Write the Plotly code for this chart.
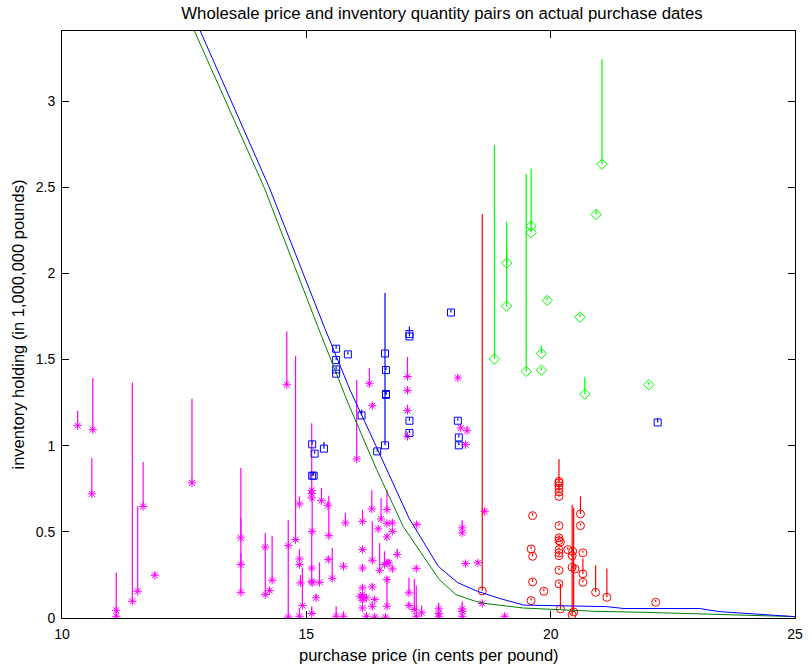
import plotly.graph_objects as go

# ---------------- data ----------------
# magenta asterisks: price, inventory, stem top
mag_x = [10.32, 10.63, 10.61, 11.11, 11.11, 11.44, 11.55, 11.66, 11.90, 12.66,
         13.66, 13.66, 13.66, 14.16, 14.16, 14.25, 14.30, 14.60, 14.63, 14.63,
         14.78, 14.86, 14.86, 14.86, 14.88, 14.92, 14.86, 15.11, 15.11, 15.11,
         15.12, 15.11, 15.11, 15.12, 15.11, 15.20, 15.27, 15.31, 15.44, 15.46,
         15.45, 15.53, 15.61, 15.76, 15.76, 15.80, 16.03, 16.29, 16.35, 16.15,
         16.15, 16.15, 16.15, 16.15, 16.15, 16.15, 16.15, 16.10, 16.23, 16.23,
         16.34, 16.35, 16.35, 16.35, 16.40, 16.40, 16.47, 16.53, 16.50, 16.60,
         16.62, 16.65, 16.65, 16.65, 16.65, 16.65, 16.65, 16.69, 16.76, 16.76,
         16.76, 16.86, 17.07, 17.07, 17.07, 17.07, 17.26, 17.25, 17.10, 17.10,
         17.21, 17.25, 17.36, 17.71, 17.71, 17.71, 18.10, 18.16, 18.29, 18.26,
         18.19, 18.19, 18.26, 18.19, 18.19, 18.19, 18.51, 18.60, 18.65, 19.06]
mag_y = [1.116, 1.093, 0.720, 0.045, 0.010, 0.097, 0.155, 0.648, 0.248, 0.784,
         0.465, 0.310, 0.149, 0.412, 0.136, 0.159, 0.219, 1.354, 0.420, 0.005,
         0.455, 0.662, 0.343, 0.310, 0.204, 0.072, 0.010, 0.741, 0.722, 0.697,
         0.503, 0.290, 0.213, 0.204, 0.026, 0.117, 0.207, 0.681, 0.654, 0.478,
         0.339, 0.230, 0.010, 0.010, 0.300, 0.552, 0.923, 1.360, 1.232, 0.561,
         0.397, 0.290, 0.175, 0.136, 0.117, 0.103, 0.058, 0.126, 0.117, 0.010,
         0.633, 0.335, 0.180, 0.068, 0.107, 0.005, 0.517, 0.575, 0.277, 0.310,
         0.005, 0.629, 0.548, 0.470, 0.320, 0.223, 0.068, 0.320, 0.552, 0.503,
         0.285, 0.368, 1.402, 1.321, 1.205, 1.054, 0.542, 0.288, 0.146, 0.072,
         0.049, 0.010, 0.030, 0.053, 0.026, 0.010, 1.393, 1.103, 1.087, 1.006,
         0.523, 0.494, 0.316, 0.053, 0.039, 0.010, 0.320, 0.084, 0.619, 0.010]
mag_top = [1.203, 1.393, 0.929, 0.262, 0.045, 1.367, 0.648, 0.905, 0.265, 1.273,
           0.871, 0.581, 0.378, 0.494, 0.412, 0.175, 0.478, 1.663, 0.567, 0.420,
           1.522, 0.706, 0.400, 0.343, 0.250, 0.290, 0.058, 1.131, 0.740, 0.720,
           0.700, 0.500, 0.290, 0.220, 0.068, 0.140, 0.323, 0.755, 0.670, 0.710,
           0.360, 0.407, 0.068, 0.039, 0.320, 0.610, 1.383, 1.450, 1.250, 0.629,
           0.420, 0.310, 0.190, 0.150, 0.130, 0.120, 0.070, 0.140, 0.130, 0.030,
           0.741, 0.561, 0.200, 0.090, 0.120, 0.020, 0.530, 0.697, 0.436, 0.387,
           0.020, 0.745, 0.560, 0.490, 0.340, 0.240, 0.223, 0.340, 0.570, 0.520,
           0.300, 0.401, 1.515, 1.340, 1.238, 1.070, 0.560, 0.300, 0.232, 0.090,
           0.227, 0.188, 0.072, 0.088, 0.040, 0.020, 1.410, 1.120, 1.112, 1.020,
           0.567, 0.510, 0.330, 0.097, 0.050, 0.020, 0.335, 0.100, 0.635, 0.025]

# blue squares
blu_x = [15.61, 15.61, 15.61, 15.61, 15.85, 16.61, 16.63, 16.63, 16.63, 16.61,
         16.13, 16.45, 17.11, 17.11, 17.11, 17.11, 17.96, 18.10, 18.12, 18.12,
         15.12, 15.17, 15.36, 15.12, 15.15, 22.19]
blu_y = [1.563, 1.497, 1.443, 1.418, 1.530, 1.535, 1.439, 1.300, 1.295, 1.002,
         1.176, 0.967, 1.648, 1.634, 1.145, 1.074, 1.773, 1.145, 1.048, 1.002,
         1.008, 0.954, 0.983, 0.826, 0.826, 1.135]
blu_top = [1.580, 1.510, 1.460, 1.430, 1.545, 1.886, 1.455, 1.315, 1.310, 1.535,
           1.209, 0.985, 1.692, 1.650, 1.160, 1.090, 1.790, 1.160, 1.065, 1.020,
           1.025, 0.970, 1.021, 0.845, 0.845, 1.160]

# red circles
red_x = [18.60, 19.63, 19.60, 19.63, 19.63, 19.60, 19.86, 20.17, 20.17, 20.17,
         20.17, 20.17, 20.17, 20.17, 20.17, 20.17, 20.20, 20.17, 20.17, 20.17,
         20.17, 20.17, 20.20, 20.35, 20.44, 20.45, 20.44, 20.50, 20.44, 20.47,
         20.61, 20.61, 20.66, 20.66, 20.66, 20.92, 21.15, 22.15]
red_y = [0.157, 0.594, 0.401, 0.358, 0.209, 0.101, 0.155, 0.793, 0.784, 0.768,
         0.751, 0.731, 0.706, 0.536, 0.465, 0.449, 0.441, 0.397, 0.378, 0.362,
         0.277, 0.198, 0.053, 0.397, 0.362, 0.387, 0.294, 0.285, 0.018, 0.035,
         0.604, 0.536, 0.378, 0.256, 0.207, 0.149, 0.120, 0.091]
red_top = [2.345, 0.610, 0.415, 0.375, 0.225, 0.115, 0.170, 0.923, 0.800, 0.780,
           0.770, 0.750, 0.720, 0.550, 0.480, 0.465, 0.455, 0.410, 0.390, 0.375,
           0.290, 0.210, 0.198, 0.410, 0.375, 0.400, 0.310, 0.300, 0.658, 0.640,
           0.706, 0.550, 0.390, 0.345, 0.220, 0.306, 0.287, 0.105]

# green diamonds
grn_x = [18.85, 19.10, 19.10, 19.50, 19.60, 19.60, 19.81, 19.81, 19.93, 20.60,
         20.70, 20.93, 21.05, 22.01]
grn_y = [1.503, 2.060, 1.810, 1.431, 2.276, 2.237, 1.535, 1.439, 1.843, 1.747,
         1.300, 2.342, 2.634, 1.354]
grn_top = [2.744, 2.300, 2.156, 2.576, 2.607, 2.300, 1.580, 1.455, 1.860, 1.765,
           1.398, 2.369, 3.243, 1.370]

# curves
curve_b_x = [12.83, 14.24, 15.38, 15.90, 16.44, 17.10, 17.70, 18.10, 18.50, 19.00,
             19.45, 20.90, 21.15, 21.50, 23.05, 23.45, 25.00]
curve_b_y = [3.407, 2.500, 1.680, 1.320, 0.990, 0.580, 0.300, 0.205, 0.155, 0.110,
             0.075, 0.066, 0.066, 0.055, 0.055, 0.037, 0.008]
curve_g_x = [12.71, 14.14, 15.22, 15.85, 16.44, 16.98, 17.72, 18.06, 18.46, 18.66,
             19.44, 20.89, 21.90, 24.94, 25.00]
curve_g_y = [3.407, 2.497, 1.702, 1.250, 0.861, 0.532, 0.223, 0.136, 0.097, 0.084,
             0.058, 0.039, 0.033, 0.010, 0.008]

x_ticks = [10, 15, 20, 25]
y_ticks = [0, 0.5, 1, 1.5, 2, 2.5, 3]
y_tick_text = ["0", "0.5", "1", "1.5", "2", "2.5", "3"]


def stem_xy(xs, ys, tops):
    sx, sy = [], []
    for x, y, t in zip(xs, ys, tops):
        sx += [x, x, None]
        sy += [y, t, None]
    return sx, sy


FONT = "Liberation Sans, Arial, sans-serif"

fig = go.Figure()

series = [
    (mag_x, mag_y, mag_top, "#ff00ff", "asterisk-open", 7),
    (blu_x, blu_y, blu_top, "#0000ff", "square-open", 7),
    (red_x, red_y, red_top, "#ff0000", "circle-open", 8),
    (grn_x, grn_y, grn_top, "#00ff00", "diamond-open", 8),
]
for xs, ys, tops, col, sym, sz in series:
    sx, sy = stem_xy(xs, ys, tops)
    fig.add_trace(go.Scatter(x=sx, y=sy, mode="lines",
                             line=dict(color=col, width=1.2),
                             showlegend=False, hoverinfo="skip"))
    fig.add_trace(go.Scatter(x=xs, y=ys, mode="markers",
                             marker=dict(symbol=sym, size=sz, color=col,
                                         line=dict(color=col, width=1)),
                             showlegend=False))

fig.add_trace(go.Scatter(x=curve_g_x, y=curve_g_y, mode="lines",
                         line=dict(color="#008000", width=1), showlegend=False))
fig.add_trace(go.Scatter(x=curve_b_x, y=curve_b_y, mode="lines",
                         line=dict(color="#0000ff", width=1), showlegend=False))

axis_common = dict(showline=True, linecolor="black", linewidth=1, mirror="allticks",
                   ticks="inside", ticklen=7, tickcolor="black", tickwidth=1,
                   showgrid=False, zeroline=False,
                   tickfont=dict(family=FONT, size=14, color="black"))

fig.update_layout(
    width=812, height=665,
    margin=dict(l=62, r=9, t=31, b=47),
    paper_bgcolor="white", plot_bgcolor="white",
    xaxis=dict(range=[10, 25], tickvals=x_ticks, ticklabelstandoff=3, **axis_common),
    yaxis=dict(range=[0, 3.407], tickvals=y_ticks, ticktext=y_tick_text,
               ticklabelstandoff=3, **axis_common),
    title=dict(text="Wholesale price and inventory quantity pairs on actual purchase dates",
               x=442 / 812, xanchor="center", xref="container",
               y=1 - 13 / 665, yanchor="middle", yref="container",
               font=dict(family=FONT, size=16.8, color="black")),
    annotations=[
        dict(text="purchase price (in cents per pound)", xref="paper", yref="paper",
             x=0.5, y=0, xanchor="center", yanchor="middle", yshift=-37, showarrow=False,
             font=dict(family=FONT, size=16.5, color="black")),
        dict(text="inventory holding (in 1,000,000 pounds)", xref="paper", yref="paper",
             x=0, y=0.5, xanchor="center", yanchor="middle", xshift=-45, textangle=-90,
             showarrow=False,
             font=dict(family=FONT, size=16.5, color="black")),
    ],
)

fig.write_html("out.html")
